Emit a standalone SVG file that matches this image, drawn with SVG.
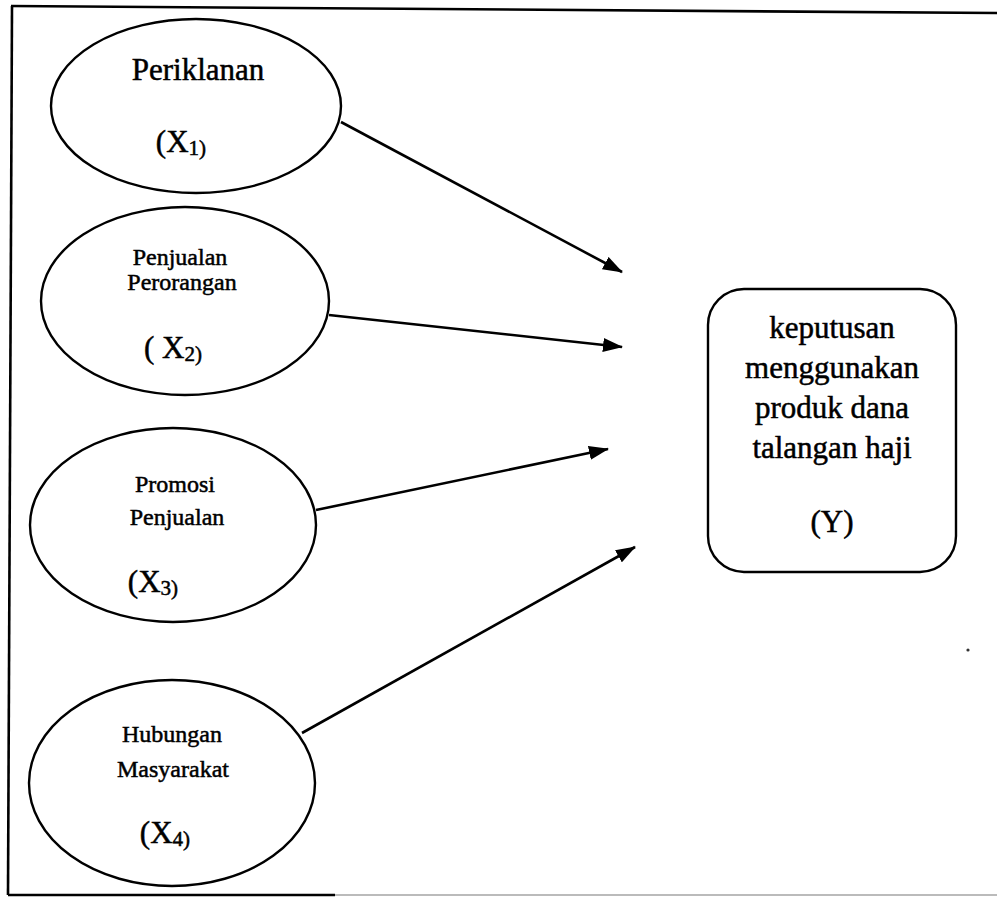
<svg xmlns="http://www.w3.org/2000/svg" width="997" height="897" viewBox="0 0 997 897">
<style>
.n{fill:#fff;stroke:#000;stroke-width:2.4}
.t{font-family:"Liberation Serif","Times New Roman",serif;fill:#000;stroke:#000;stroke-width:0.5;text-anchor:middle}
.big{font-size:31px}
.sm{font-size:24px}
.sub{font-size:0.68em}
.c{stroke:#000;stroke-width:2.6;fill:none;marker-end:url(#ah)}
.f{stroke:#000;stroke-width:2.6;fill:none}
</style>
<defs>
<marker id="ah" viewBox="0 0 20 14" refX="19" refY="7" markerWidth="20" markerHeight="14" markerUnits="userSpaceOnUse" orient="auto">
<path d="M0,0 L20,7 L0,14 Z" fill="#000"/>
</marker>
</defs>
<rect width="997" height="897" fill="#fff"/>
<g id="frame">
<path class="f" d="M11,6 L997,13"/>
<path class="f" d="M12,6 L8,895"/>
<path class="f" d="M8,895 L335,895"/>
<path d="M335,895 L997,895" stroke="#bbb" stroke-width="2" fill="none"/>
<circle cx="968" cy="650" r="1.6" fill="#333"/>
</g>
<g id="connectors">
<path class="c" d="M341,122 L622,272"/>
<path class="c" d="M329,315 L622,347"/>
<path class="c" d="M316,510 L608,449"/>
<path class="c" d="M302,733 L635,547"/>
</g>
<g id="x1">
<ellipse class="n" cx="196" cy="106" rx="145" ry="87"/>
<text class="t big" x="198" y="80">Periklanan</text>
<text class="t big" x="181" y="152">(X<tspan class="sub" dy="3">1)</tspan></text>
</g>
<g id="x2">
<ellipse class="n" cx="185" cy="301" rx="144" ry="94"/>
<text class="t sm" x="180" y="265">Penjualan</text>
<text class="t sm" x="182" y="290">Perorangan</text>
<text class="t big" x="173" y="358">( X<tspan class="sub" dy="3">2)</tspan></text>
</g>
<g id="x3">
<ellipse class="n" cx="173" cy="525" rx="143" ry="97"/>
<text class="t sm" x="175" y="492">Promosi</text>
<text class="t sm" x="177" y="525">Penjualan</text>
<text class="t big" x="153" y="592">(X<tspan class="sub" dy="3">3)</tspan></text>
</g>
<g id="x4">
<ellipse class="n" cx="172" cy="783" rx="143" ry="103"/>
<text class="t sm" x="172" y="742">Hubungan</text>
<text class="t sm" x="173" y="777">Masyarakat</text>
<text class="t big" x="165" y="843">(X<tspan class="sub" dy="3">4)</tspan></text>
</g>
<g id="y">
<rect class="n" x="708" y="289" width="248" height="283" rx="36" ry="36"/>
<text class="t big" x="832" y="338">keputusan</text>
<text class="t big" x="832" y="378">menggunakan</text>
<text class="t big" x="832" y="418">produk dana</text>
<text class="t big" x="832" y="458">talangan haji</text>
<text class="t big" x="832" y="532">(Y)</text>
</g>
</svg>
